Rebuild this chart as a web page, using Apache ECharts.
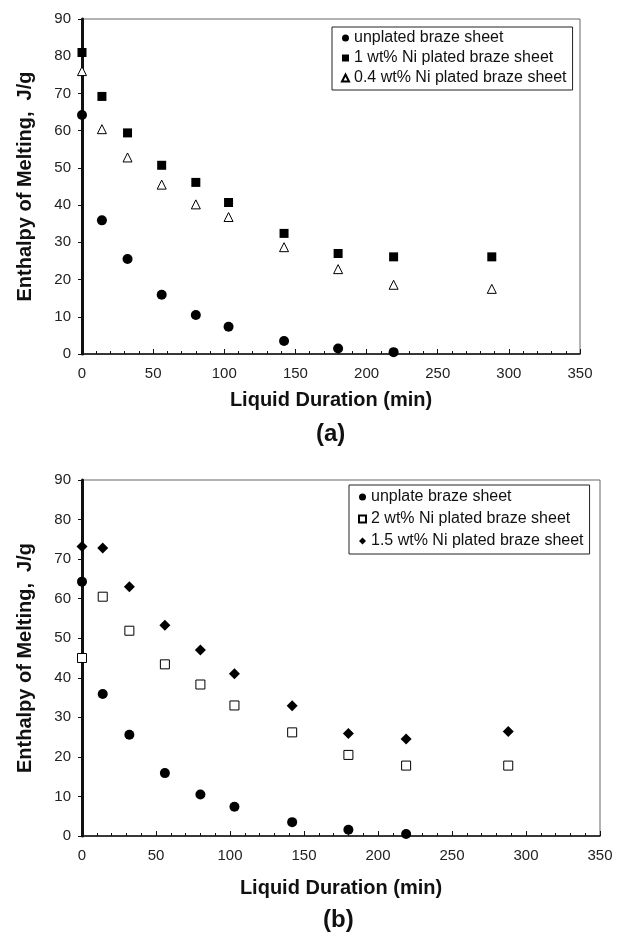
<!DOCTYPE html>
<html>
<head>
<meta charset="utf-8">
<script src="https://cdn.jsdelivr.net/npm/echarts@6/dist/echarts.min.js"></script>
<style>
  html, body { margin: 0; padding: 0; background: #fff; }
  #chart { width: 630px; height: 936px; }
</style>
</head>
<body>
<div id="chart"></div>
<script>
// Liquid duration (min) for each sample
const durationA = [0, 14, 32, 56, 80, 103, 142, 180, 219, 288];
const durationB = [0, 14, 32, 56, 80, 103, 142, 180, 219, 288];

// Panel (a) enthalpy of melting (J/g)
const unplatedA = [64.2, 35.9, 25.5, 15.9, 10.5, 7.3, 3.5, 1.5, 0.5];
const ni1A = [81.0, 69.2, 59.4, 50.7, 46.1, 40.7, 32.4, 27.0, 26.1, 26.1];
const ni04A = [76.0, 60.4, 52.8, 45.5, 40.2, 36.8, 28.7, 22.8, 18.6, 17.5];

// Panel (b) enthalpy of melting (J/g)
const unplatedB = [64.3, 35.9, 25.6, 15.9, 10.5, 7.4, 3.5, 1.6, 0.5];
const ni2B = [45.0, 60.5, 51.9, 43.4, 38.3, 33.0, 26.2, 20.5, 17.8, 17.8];
const ni15B = [73.2, 72.8, 63.0, 53.3, 47.0, 41.0, 32.9, 25.9, 24.5, 26.4];

const namesA = ['unplated braze sheet', '1 wt% Ni plated braze sheet', '0.4 wt% Ni plated braze sheet'];
const namesB = ['unplate braze sheet', '2 wt% Ni plated braze sheet', '1.5 wt% Ni plated braze sheet'];

const font = 'Liberation Sans, Arial, sans-serif';

const pairs = (xs, ys) => ys.map((y, i) => [xs[i], y]);

const xAxisBase = (gridIndex, gap) => ({
  gridIndex,
  type: 'value',
  min: 0,
  max: 350,
  interval: 50,
  name: 'Liquid Duration (min)',
  nameLocation: 'middle',
  nameGap: gap,
  nameTextStyle: { fontFamily: font, fontSize: 20, fontWeight: 'bold', color: '#111' },
  axisLine: { onZero: false, lineStyle: { color: '#111', width: 1.5 } },
  axisTick: { inside: true, length: 5, lineStyle: { color: '#111' } },
  minorTick: { show: true, splitNumber: 5, length: 3, lineStyle: { color: '#111' } },
  axisLabel: { fontFamily: font, fontSize: 15, color: '#222', margin: 12 },
  splitLine: { show: false }
});

const yAxisBase = (gridIndex) => ({
  gridIndex,
  type: 'value',
  min: 0,
  max: 90,
  interval: 10,
  name: 'Enthalpy of Melting,  J/g',
  nameLocation: 'middle',
  nameGap: 47,
  nameTextStyle: { fontFamily: font, fontSize: 20, fontWeight: 'bold', color: '#111' },
  axisLine: { onZero: false, lineStyle: { color: '#111', width: 3 } },
  axisTick: { inside: false, length: 4, lineStyle: { color: '#111' } },
  axisLabel: { fontFamily: font, fontSize: 15, color: '#222', margin: 11 },
  splitLine: { show: false }
});

const solid = { color: '#000', opacity: 1 };
const hollow = { color: '#fff', borderColor: '#000', borderWidth: 1, opacity: 1 };

const scatter = (name, idx, data, symbol, size, style) => ({
  name,
  type: 'scatter',
  xAxisIndex: idx,
  yAxisIndex: idx,
  data,
  symbol,
  symbolSize: size,
  itemStyle: style,
  clip: false,
  z: 5
});

const legendBase = (names, left, top, gap, pad) => ({
  data: names,
  orient: 'vertical',
  left,
  top,
  itemWidth: 7,
  itemHeight: 7,
  itemGap: gap,
  padding: pad,
  borderColor: '#222',
  borderWidth: 1,
  backgroundColor: '#fff',
  selectedMode: false,
  textStyle: { fontFamily: font, fontSize: 16, color: '#111' }
});

const chart = echarts.init(document.getElementById('chart'));
chart.setOption({
  animation: false,
  grid: [
    { left: 82, top: 19, width: 498, height: 335, show: true, borderColor: '#666', borderWidth: 1 },
    { left: 82, top: 480, width: 518, height: 356, show: true, borderColor: '#666', borderWidth: 1 }
  ],
  xAxis: [xAxisBase(0, 36), xAxisBase(1, 42)],
  yAxis: [yAxisBase(0), yAxisBase(1)],
  legend: [
    legendBase(namesA, 332, 27, 4, [3, 6, 4, 9]),
    legendBase(namesB, 349, 485, 6, [4, 6, 5, 9])
  ],
  graphic: [
    { type: 'text', left: 316, top: 422, style: { text: '(a)', fontFamily: font, fontSize: 24, fontWeight: 'bold', fill: '#111' } },
    { type: 'text', left: 323, top: 908, style: { text: '(b)', fontFamily: font, fontSize: 24, fontWeight: 'bold', fill: '#111' } }
  ],
  series: [
    scatter(namesA[0], 0, pairs(durationA, unplatedA), 'circle', 10, solid),
    scatter(namesA[1], 0, pairs(durationA, ni1A), 'rect', 9, solid),
    scatter(namesA[2], 0, pairs(durationA, ni04A), 'triangle', 9, hollow),
    scatter(namesB[0], 1, pairs(durationB, unplatedB), 'circle', 10, solid),
    scatter(namesB[1], 1, pairs(durationB, ni2B), 'rect', 9, hollow),
    scatter(namesB[2], 1, pairs(durationB, ni15B), 'diamond', 11, solid)
  ]
});
</script>
</body>
</html>
